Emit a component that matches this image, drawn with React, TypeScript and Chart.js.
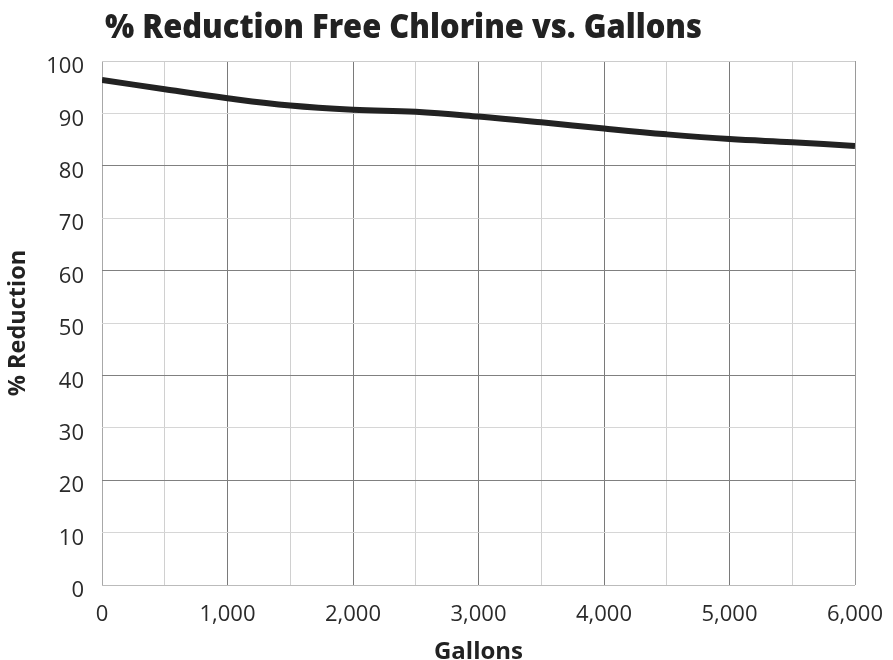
import React, { useEffect, useRef } from "react";
import { Chart, registerables } from "chart.js";

Chart.register(...registerables);

const TITLE = "% Reduction Free Chlorine vs. Gallons";
const X_TITLE = "Gallons";
const Y_TITLE = "% Reduction";

const gallons = [0, 500, 1000, 1500, 2000, 2500, 3000, 3500, 4000, 4500, 5000, 5500, 6000];
const reduction = [96.4, 94.6, 92.9, 91.5, 90.7, 90.3, 89.4, 88.3, 87.1, 86.0, 85.1, 84.5, 83.8];

const X_MIN = 0;
const X_MAX = 6000;
const X_STEP = 500;
const X_LABEL_STEP = 1000;
const Y_MIN = 0;
const Y_MAX = 100;
const Y_STEP = 10;

const FONT = '"Open Sans", "Noto Sans", "DejaVu Sans", sans-serif';

const titlePlugin = {
  id: "customTitle",
  afterDraw(chart: any) {
    const { ctx, chartArea } = chart;
    ctx.save();
    ctx.font = `800 33.6px ${FONT}`;
    ctx.fillStyle = "#222222";
    ctx.textBaseline = "alphabetic";
    ctx.textAlign = "left";
    const w = ctx.measureText(TITLE).width;
    const target = 597;
    const sx = target / w;
    ctx.translate(chartArea.left + 3, 38);
    ctx.scale(sx, 1);
    ctx.fillText(TITLE, 0, 0);
    ctx.restore();
  },
};

export default function App() {
  const ref = useRef<HTMLCanvasElement | null>(null);

  useEffect(() => {
    if (!ref.current) return;
    const chart = new Chart(ref.current, {
      type: "line",
      data: {
        datasets: [
          {
            data: gallons.map((g, i) => ({ x: g, y: reduction[i] })),
            borderColor: "#222222",
            borderWidth: 6,
            pointRadius: 0,
            tension: 0.4,
            fill: false,
          },
        ],
      },
      options: {
        responsive: false,
        animation: false,
        devicePixelRatio: 1,
        layout: { padding: { top: 61, left: 0, right: 38, bottom: 0 } },
        plugins: {
          legend: { display: false },
          tooltip: { enabled: false },
          title: { display: false },
        },
        scales: {
          x: {
            type: "linear",
            min: X_MIN,
            max: X_MAX,
            border: { display: false },
            grid: {
              drawTicks: false,
              lineWidth: 1,
              color: (c: any) => {
                const v = c.tick?.value;
                if (v === X_MIN) return "#a8a8a8";
                if (v === X_MAX) return "#9a9a9a";
                if (v % X_LABEL_STEP === 0) return "#7a7a7a";
                return "#d0d0d0";
              },
            },
            ticks: {
              stepSize: X_STEP,
              autoSkip: false,
              maxRotation: 0,
              padding: 17,
              color: "#2a2a2a",
              font: { family: FONT, size: 22 },
              callback: (v: any) =>
                Number(v) % X_LABEL_STEP === 0 ? Number(v).toLocaleString("en-US") : "",
            },
            title: {
              display: true,
              text: X_TITLE,
              color: "#222222",
              font: { family: FONT, size: 24, weight: "bold", lineHeight: 0.66 },
              padding: { top: 0, bottom: 0 },
            },
            afterFit: (s: any) => {
              s.height = 75;
              s.paddingLeft = 0;
              s.paddingRight = 0;
            },
          },
          y: {
            type: "linear",
            min: Y_MIN,
            max: Y_MAX,
            border: { display: false },
            grid: {
              drawTicks: false,
              lineWidth: 1,
              color: (c: any) => {
                const v = c.tick?.value;
                if (v === Y_MIN) return "#bbbbbb";
                if (v === Y_MAX) return "#cccccc";
                if (v % 20 === 0) return "#808080";
                return "#d6d6d6";
              },
            },
            ticks: {
              stepSize: Y_STEP,
              padding: 18,
              labelOffset: 6,
              color: "#2a2a2a",
              font: { family: FONT, size: 22 },
            },
            title: {
              display: true,
              text: Y_TITLE,
              color: "#222222",
              font: { family: FONT, size: 23.5, weight: "bold" },
              padding: { top: 4, bottom: 0 },
            },
            afterFit: (s: any) => {
              s.width = 102;
              s.paddingTop = 0;
              s.paddingBottom = 0;
            },
          },
        },
      } as any,
      plugins: [titlePlugin],
    });
    return () => chart.destroy();
  }, []);

  return (
    <div style={{ position: "fixed", left: 0, top: 0, width: 893, height: 660, background: "#fff" }}>
      <canvas ref={ref} width={893} height={660} style={{ display: "block" }} />
    </div>
  );
}
